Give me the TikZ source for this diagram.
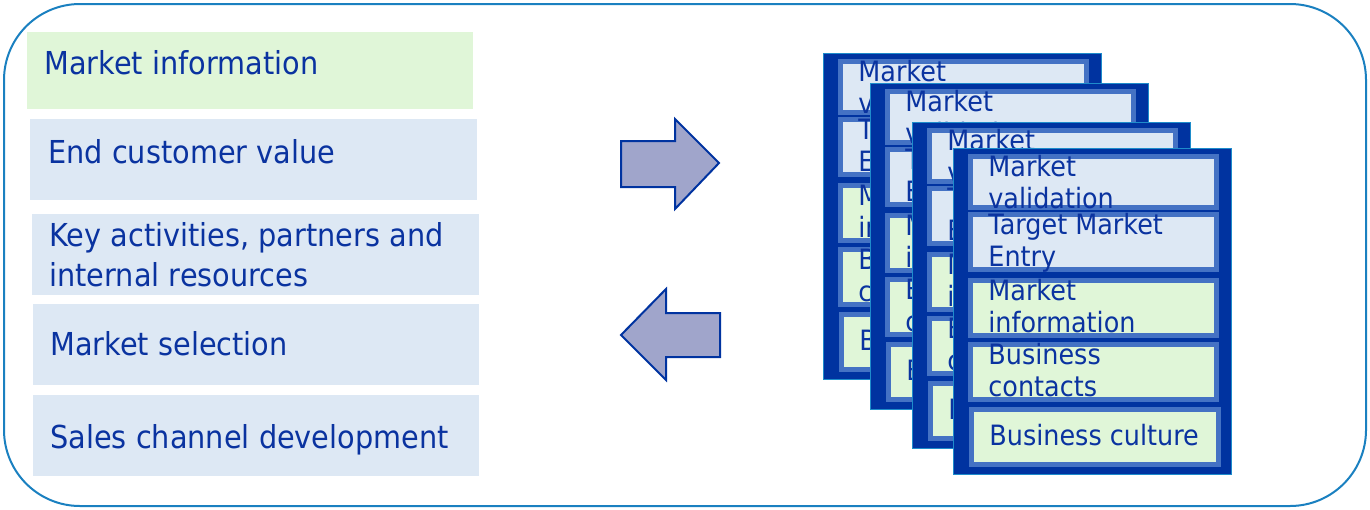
\documentclass[tikz,border=0pt]{standalone}
\usepackage{fontspec}
\setmainfont[FakeStretch=0.91]{DejaVu Sans}
\definecolor{txtblue}{HTML}{0A33A0}
\definecolor{greenfill}{HTML}{E0F6D8}
\definecolor{bluefill}{HTML}{DDE8F4}
\definecolor{framecol}{HTML}{1A80C0}
\definecolor{carddark}{HTML}{0033A0}
\definecolor{cardmid}{HTML}{4472C4}
\definecolor{cardedge}{HTML}{1E8CCB}
\definecolor{arrowfill}{HTML}{A0A5CB}

\tikzset{
  outerframe/.style={draw=framecol, line width=1pt, rounded corners=38pt},
  greenpanel/.style={fill=greenfill},
  bluepanel/.style={fill=bluefill},
  lefttext/.style={anchor=base west, inner sep=0pt, text=txtblue,
    font=\fontsize{15.8}{19}\selectfont},
  cardbody/.style={fill=carddark, draw=cardedge, line width=0.5pt},
  rowblue/.style={fill=bluefill, draw=cardmid, line width=2.5pt},
  rowgreen/.style={fill=greenfill, draw=cardmid, line width=2.5pt},
  cardtext/.style={anchor=base west, inner sep=0pt, text=txtblue,
    font=\fontsize{14}{16}\selectfont},
  bigarrow/.style={fill=arrowfill, draw=carddark, line width=1pt, line join=miter},
}

% one stacked card: #1 name, #2 x, #3 y of its top left corner
\newcommand\drawcard[3]{%
  \begin{scope}[shift={(#2,#3)}]
    \filldraw[cardbody] (0,0) rectangle (278,326);
    \filldraw[rowblue]  (17.5,8.5)   rectangle (263.5,59.5);
    \filldraw[rowblue]  (17.5,66.5)  rectangle (263.5,121.5);
    \filldraw[rowgreen] (17.5,132.5) rectangle (263.5,187.5);
    \filldraw[rowgreen] (17.5,196.5) rectangle (263.5,251.5);
    \filldraw[rowgreen] (18.5,261.5) rectangle (265.5,316.5);
    \node[cardtext] (#1-r1a) at (35,28)  {Market};
    \node[cardtext] (#1-r1b) at (35,60)  {validation};
    \node[cardtext] (#1-r2a) at (35,86)  {Target Market};
    \node[cardtext] (#1-r2b) at (35,118) {Entry};
    \node[cardtext] (#1-r3a) at (35,152) {Market};
    \node[cardtext] (#1-r3b) at (35,184) {information};
    \node[cardtext] (#1-r4a) at (35,216) {Business};
    \node[cardtext] (#1-r4b) at (35,248) {contacts};
    \node[cardtext] (#1-r5)  at (36,297) {Business culture};
  \end{scope}}

\begin{document}
\begin{tikzpicture}[x=0.5pt, y=-0.5pt]
  \useasboundingbox (0,0) rectangle (1370,509);

  % surrounding frame
  \draw[outerframe] (4,4) rectangle (1366,506);

  % left column of topics
  \fill[greenpanel] (27,32)  rectangle (473,109);
  \fill[bluepanel]  (30,119) rectangle (477,200);
  \fill[bluepanel]  (32,214) rectangle (479,295);
  \fill[bluepanel]  (33,304) rectangle (479,385);
  \fill[bluepanel]  (33,395) rectangle (479,476);
  \node[lefttext] (mi)  at (44,74)  {Market information};
  \node[lefttext] (ecv) at (48,163) {End customer value};
  \node[lefttext] (ka1) at (49,246) {Key activities, partners and};
  \node[lefttext] (ka2) at (49,286) {internal resources};
  \node[lefttext] (ms)  at (50,355) {Market selection};
  \node[lefttext] (scd) at (50,448) {Sales channel development};

  % exchange arrows
  \draw[bigarrow] (621,141) -- (675,141) -- (675,119) -- (719,163)
    -- (675,209) -- (675,187) -- (621,187) -- cycle;
  \draw[bigarrow] (621,335) -- (666,289) -- (666,313) -- (720,313)
    -- (720,357) -- (666,357) -- (666,380) -- cycle;

  % stack of market cards, back to front
  \drawcard{cardA}{823}{53}
  \drawcard{cardB}{870}{83}
  \drawcard{cardC}{912}{122}
  \drawcard{cardD}{953}{148}
\end{tikzpicture}
\end{document}
